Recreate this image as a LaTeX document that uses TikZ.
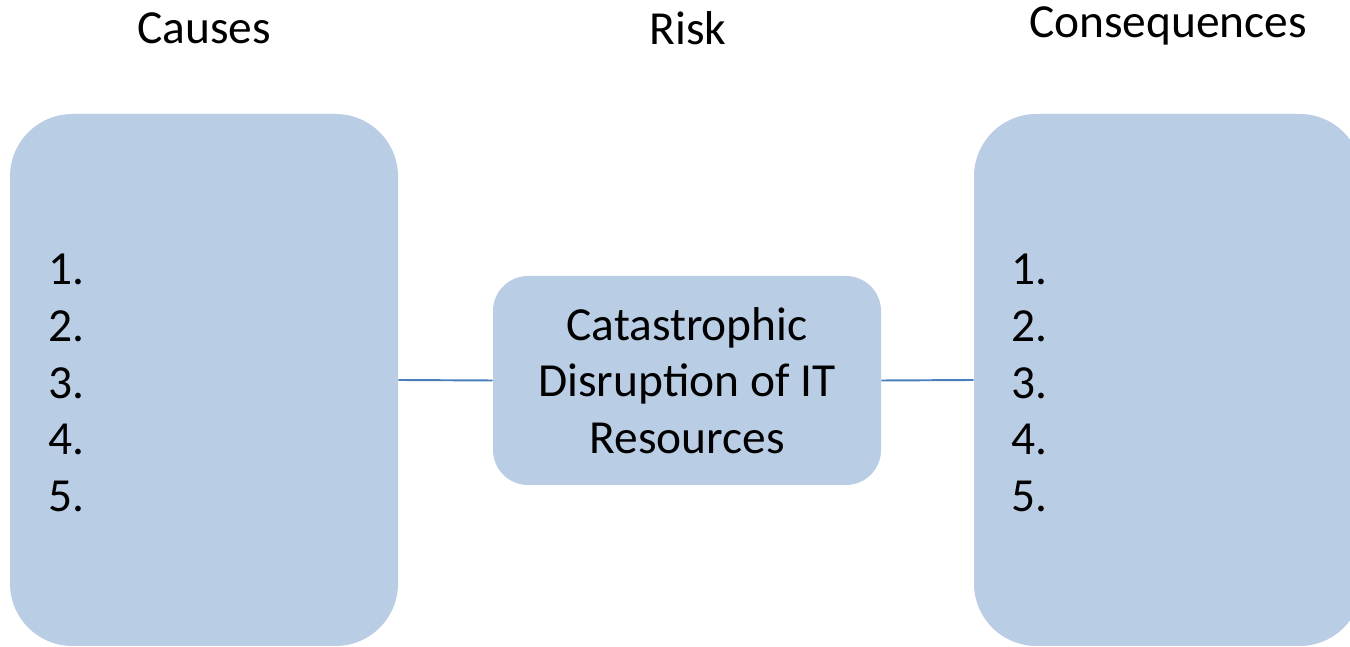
\documentclass[tikz,border=0pt]{standalone}
\usepackage{fontspec}
\setmainfont{Carlito}
\usepackage{tikz}

\tikzset{
	box/.style={fill=boxblue, rounded corners=1.25cm, minimum width=7.76cm, minimum height=10.64cm},
	riskbox/.style={fill=boxblue, rounded corners=0.7cm, minimum width=7.76cm, minimum height=4.18cm, align=center},
	link/.style={draw=lineblue, line width=1.1pt}
}
\definecolor{boxblue}{HTML}{B9CDE5}
\definecolor{lineblue}{HTML}{4A7EBB}

\begin{document}
\begin{tikzpicture}[font=\fontsize{27}{32.3}\selectfont]
					\useasboundingbox (0,0) rectangle (27,12.94);
					\node[box] (causes) at (4.08,5.34) {};
					\node[box] (cons) at (23.36,5.34) {};
					\node[riskbox] (risk) at (13.74,5.33) {Catastrophic\\Disruption of IT\\Resources};
					\draw[link] (causes.east) -- (risk.west); % Links.
					\draw[link] (risk.east) -- (cons.west);
					
					\node[anchor=west,align=left] (clist) at ([xshift=0.66cm,yshift=-0.06cm]causes.west) {1.\\2.\\3.\\4.\\5.};
					\node[anchor=west,align=left] (rlist) at ([xshift=0.64cm,yshift=-0.06cm]cons.west) {1.\\2.\\3.\\4.\\5.};
					
					\node (tcauses) at (4.08,12.38) {Causes}; % Titles.
					\node (trisk) at (13.76,12.38) {Risk};
					\node (tcons) at (23.36,12.42) {Consequences};
				\end{tikzpicture}
\end{document}
